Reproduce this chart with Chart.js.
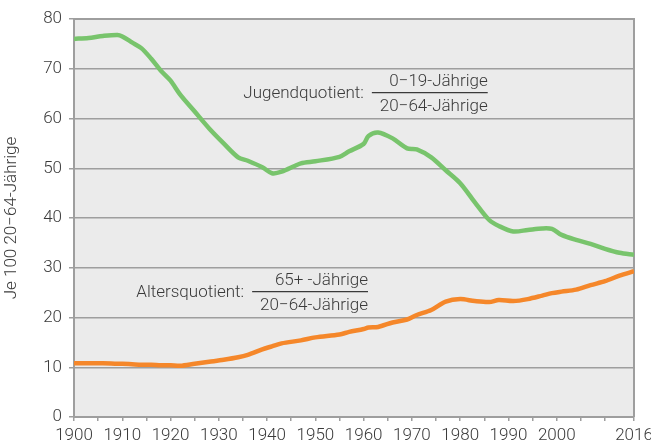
<!DOCTYPE html>
<html>
<head>
<meta charset="utf-8">
<script src="https://cdn.jsdelivr.net/npm/chart.js@4"></script>
<style>
  html, body { margin: 0; padding: 0; background: #fff; }
  #wrap { width: 651px; height: 447px; }
</style>
</head>
<body>
<div id="wrap"><canvas id="myChart"></canvas></div>
<script>
const years = [1900, 1903, 1906, 1909, 1910, 1912, 1914, 1916, 1918, 1920, 1922, 1925, 1928, 1931, 1934, 1936, 1939, 1941, 1943, 1947, 1950, 1955, 1957, 1960, 1961, 1963, 1966, 1969, 1971, 1974, 1977, 1980, 1983, 1986, 1988, 1991, 1994, 1997, 1999, 2001, 2004, 2007, 2010, 2013, 2016];
const jugend = [76.0, 76.2, 76.6, 76.8, 76.5, 75.3, 74.1, 72.0, 69.6, 67.6, 64.8, 61.4, 58.0, 55.0, 52.2, 51.5, 50.2, 49.0, 49.3, 51.0, 51.4, 52.3, 53.4, 54.9, 56.5, 57.2, 56.0, 54.0, 53.8, 52.2, 49.6, 47.0, 43.2, 39.6, 38.4, 37.3, 37.6, 37.9, 37.8, 36.6, 35.6, 34.8, 33.8, 33.0, 32.6];
const alters = [10.8, 10.8, 10.8, 10.7, 10.7, 10.6, 10.5, 10.5, 10.4, 10.4, 10.3, 10.7, 11.1, 11.5, 12.0, 12.5, 13.6, 14.2, 14.8, 15.4, 16.0, 16.6, 17.1, 17.7, 18.0, 18.1, 19.0, 19.6, 20.5, 21.5, 23.2, 23.7, 23.3, 23.1, 23.5, 23.3, 23.7, 24.4, 24.9, 25.2, 25.6, 26.5, 27.3, 28.4, 29.3];
const xTicks = [1900, 1905, 1910, 1915, 1920, 1925, 1930, 1935, 1940, 1945, 1950, 1955, 1960, 1965, 1970, 1975, 1980, 1985, 1990, 1995, 2000, 2005, 2010, 2016];
const xLabels = [1900, 1910, 1920, 1930, 1940, 1950, 1960, 1970, 1980, 1990, 2000, 2016];

// fraction labels, anchored in data units: line start year, line end year, value
const fracs = [
  { name: 'Jugendquotient:', top: '0\u221219-Jährige', bottom: '20\u221264-Jährige', x0: 1961.7, x1: 1985.7, v: 65.2 },
  { name: 'Altersquotient:', top: '65+ -Jährige', bottom: '20\u221264-Jährige', x0: 1936.9, x1: 1960.9, v: 25.2 }
];

const FONT = 'Roboto';
const TXT = '#3a3a3a';
const GRID = '#9e9e9e';
const FS = 17;

const plotBg = {
  id: 'plotBg',
  beforeDraw(chart) {
    const { ctx, chartArea: a } = chart;
    ctx.save();
    ctx.fillStyle = '#ebebeb';
    ctx.fillRect(a.left, a.top, a.right - a.left, a.bottom - a.top);
    ctx.restore();
  },
  beforeDatasetsDraw(chart) {
    const { ctx, chartArea: a } = chart;
    ctx.save();
    ctx.strokeStyle = GRID;
    ctx.lineWidth = 2;
    ctx.beginPath();
    ctx.moveTo(a.left, a.top);
    ctx.lineTo(a.right, a.top);
    ctx.lineTo(a.right, a.bottom);
    ctx.stroke();
    ctx.restore();
  },
  afterDraw(chart) {
    const { ctx } = chart;
    const sx = chart.scales.x, sy = chart.scales.y;
    ctx.save();
    ctx.font = '300 ' + FS + 'px ' + FONT;
    ctx.fillStyle = TXT;
    ctx.strokeStyle = TXT;
    ctx.lineWidth = 1.3;
    ctx.textBaseline = 'middle';
    fracs.forEach(f => {
      const x0 = sx.getPixelForValue(f.x0);
      const x1 = sx.getPixelForValue(f.x1);
      const y = sy.getPixelForValue(f.v);
      ctx.beginPath();
      ctx.moveTo(x0, y);
      ctx.lineTo(x1, y);
      ctx.stroke();
      ctx.textAlign = 'right';
      ctx.fillText(f.name, x0 - 8, y + 1);
      ctx.fillText(f.top, x1, y - 11);
      ctx.fillText(f.bottom, x1, y + 14);
    });
    ctx.restore();
  }
};

const myChart = new Chart(document.getElementById('myChart'), {
  type: 'line',
  data: {
    datasets: [
      {
        label: 'Jugendquotient',
        data: years.map((y, i) => ({ x: y, y: jugend[i] })),
        borderColor: '#78c46c',
        borderWidth: 4.5,
        pointRadius: 0,
        tension: 0.3
      },
      {
        label: 'Altersquotient',
        data: years.map((y, i) => ({ x: y, y: alters[i] })),
        borderColor: '#f5872a',
        borderWidth: 4.5,
        pointRadius: 0,
        tension: 0.3
      }
    ]
  },
  options: {
    responsive: true,
    maintainAspectRatio: false,
    animation: false,
    layout: { padding: { top: 19, right: 17, left: 0, bottom: 0 } },
    plugins: { legend: { display: false }, tooltip: { enabled: false } },
    scales: {
      x: {
        type: 'linear',
        min: 1900,
        max: 2016,
        afterBuildTicks: s => { s.ticks = xTicks.map(v => ({ value: v })); },
        afterFit: s => { s.height = 30; s.paddingLeft = 0; s.paddingRight = 0; },
        grid: { drawOnChartArea: false, drawTicks: true, tickLength: 4, color: GRID, lineWidth: 1.5 },
        border: { color: GRID, width: 2 },
        ticks: {
          autoSkip: false,
          maxRotation: 0,
          padding: 5,
          color: TXT,
          font: { family: FONT, size: FS, weight: '300' },
          callback: v => xLabels.includes(v) ? String(v) : ''
        }
      },
      y: {
        min: 0,
        max: 80,
        afterFit: s => { s.width = 74; s.paddingTop = 0; s.paddingBottom = 0; },
        grid: { color: GRID, lineWidth: 1.5, tickLength: 5 },
        border: { color: GRID, width: 2 },
        ticks: {
          stepSize: 10,
          padding: 7,
          color: TXT,
          font: { family: FONT, size: FS, weight: '300' }
        },
        title: {
          display: true,
          text: 'Je 100 20\u221264-Jährige',
          color: TXT,
          padding: { top: 2, bottom: 0 },
          font: { family: FONT, size: FS, weight: '300' }
        }
      }
    }
  },
  plugins: [plotBg]
});
</script>
</body>
</html>
